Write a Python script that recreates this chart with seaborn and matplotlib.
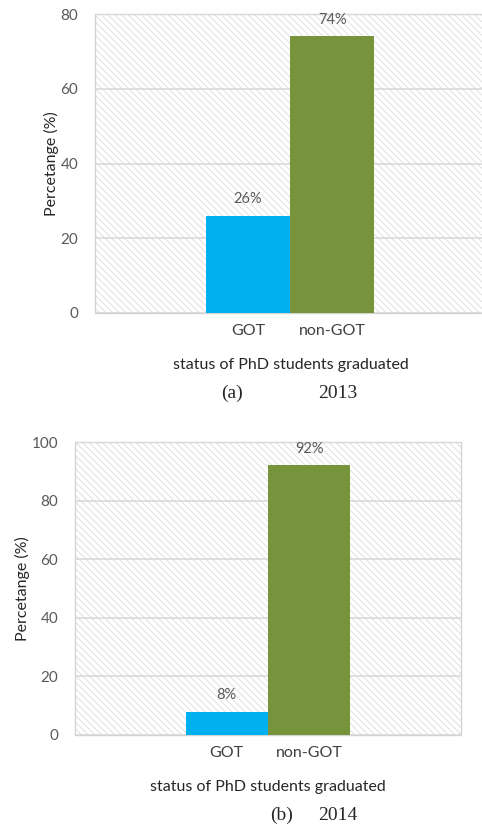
import matplotlib
matplotlib.use("Agg")
import matplotlib.pyplot as plt
import seaborn as sns
from matplotlib.patches import Rectangle

# Dados
categorias = ["GOT", "non-GOT"]
valores_2013 = [26, 74]
valores_2014 = [8, 92]
rotulos_2013 = ["26%", "74%"]
rotulos_2014 = ["8%", "92%"]
cores = ["#00B0F0", "#77933C"]

sns.set_theme(style="white")
plt.rcParams["font.family"] = ["Lato", "DejaVu Sans"]
plt.rcParams["hatch.linewidth"] = 0.5

fig = plt.figure(figsize=(4.82, 8.26), dpi=100)


def painel(ax, valores, rotulos, ymax, xlim):
    # fundo hachurado
    fundo = Rectangle((0, 0), 1, 1, transform=ax.transAxes, facecolor="white",
                      edgecolor="#d4d4d4", hatch="\\" * 5, lw=1.0, zorder=0,
                      clip_on=False)
    ax.add_patch(fundo)
    ax.set_facecolor("none")
    sns.barplot(x=categorias, y=valores, hue=categorias, palette=cores,
                width=1.0, legend=False, ax=ax, zorder=3, saturation=1,
                linewidth=0)
    ax.bar_label(ax.containers[0], labels=[rotulos[0]], padding=7,
                 color="#595959", fontsize=10.5)
    ax.bar_label(ax.containers[1], labels=[rotulos[1]], padding=7,
                 color="#595959", fontsize=10.5)
    ax.set_ylim(0, ymax)
    ax.set_xlim(*xlim)
    ax.set_yticks(range(0, ymax + 1, 20))
    ax.yaxis.grid(True, color="#d9d9d9", lw=1.2, zorder=1)
    ax.set_axisbelow(True)
    for s in ax.spines.values():
        s.set_visible(False)
    ax.tick_params(axis="y", length=0, pad=12, labelcolor="#595959", labelsize=11)
    ax.tick_params(axis="x", length=0, pad=8, labelcolor="#404040", labelsize=11.5)
    ax.set_ylabel("Percetange (%)", fontsize=11.5, color="#262626", labelpad=1)
    ax.set_xlabel("status of PhD students graduated", fontsize=11.5,
                  color="#262626", labelpad=14)
    return ax


ax1 = fig.add_axes([95 / 482, 513 / 826, 392 / 482, 299 / 826])
painel(ax1, valores_2013, rotulos_2013, 80, (-1.82, 2.84))

ax2 = fig.add_axes([75 / 482, 91 / 826, 386 / 482, 293 / 826])
painel(ax2, valores_2014, rotulos_2014, 100, (-1.84, 2.84))

# legendas das figuras
serif = ["Liberation Serif", "DejaVu Serif"]
fig.text(232 / 482, 1 - 393 / 826, "(a)", family=serif, fontsize=14,
         ha="center", va="center")
fig.text(338 / 482, 1 - 393 / 826, "2013", family=serif, fontsize=14,
         ha="center", va="center")
fig.text(282 / 482, 1 - 815 / 826, "(b)", family=serif, fontsize=14,
         ha="center", va="center")
fig.text(338 / 482, 1 - 815 / 826, "2014", family=serif, fontsize=14,
         ha="center", va="center")

fig.savefig("out.png", dpi=100)
